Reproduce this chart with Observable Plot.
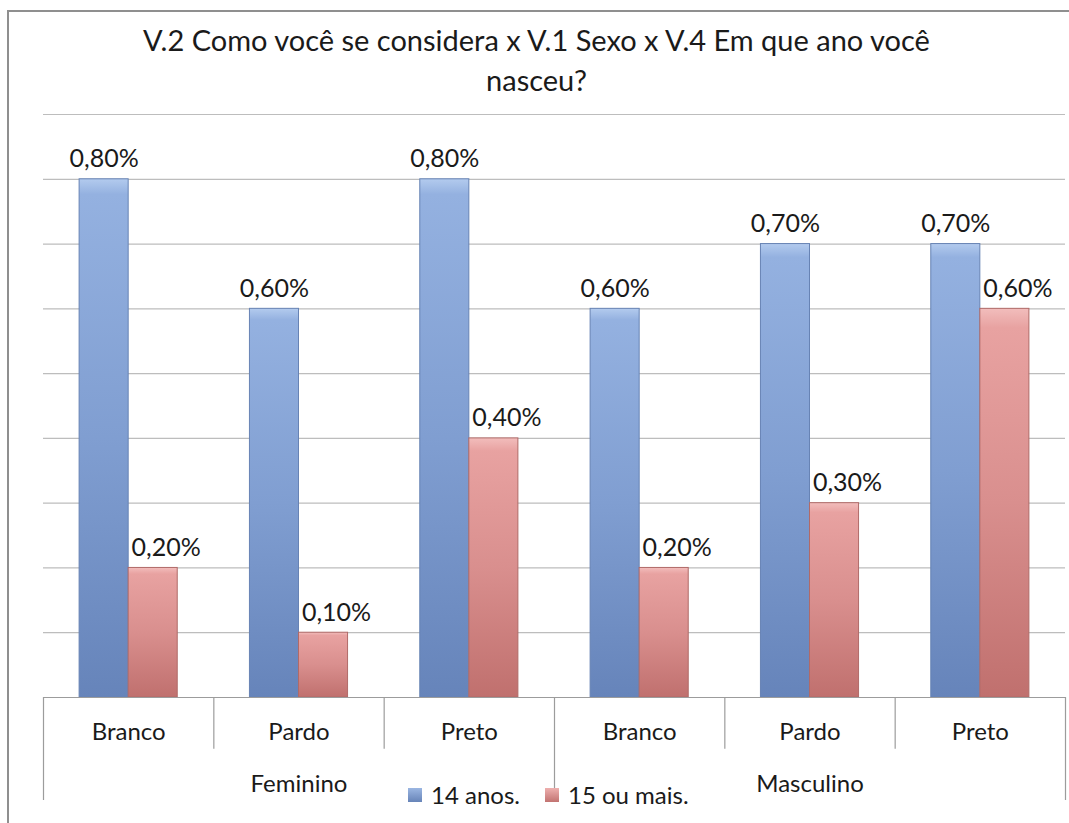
<!DOCTYPE html>
<html>
<head>
<meta charset="utf-8">
<script src="https://cdn.jsdelivr.net/npm/d3@7"></script>
<script src="https://cdn.jsdelivr.net/npm/@observablehq/plot@0.6"></script>
<style>
  html, body { margin: 0; padding: 0; background: #fff; }
  #wrap { position: relative; width: 1069px; height: 823px; overflow: hidden; font-family: Lato, "Open Sans", sans-serif; color: #1a1a1a; }
  #frame { position: absolute; left: 7px; top: 10px; width: 1100px; height: 900px; border-left: 2px solid #8f8f8f; border-top: 2px solid #8f8f8f; }
  #chart { position: absolute; left: 0; top: 0; }
  #title { position: absolute; left: 0; width: 1069px; top: 20px; text-align: center; font-size: 29px; line-height: 40px; padding-left: 2px; }
  #legend { position: absolute; top: 780px; left: 408px; font-size: 24px; display: flex; align-items: center; }
  #legend .sw { display: inline-block; width: 14px; height: 14px; margin-right: 9px; }
  #legend .item { display: flex; align-items: center; margin-right: 25px; }
</style>
</head>
<body>
<div id="wrap">
  <div id="frame"></div>
  <div id="chart"></div>
  <div id="title">V.2 Como você se considera x V.1 Sexo x V.4 Em que ano você<br>nasceu?</div>
  <div id="legend"></div>
</div>
<script>
// ---- data ----
const sexes = ["Feminino", "Feminino", "Feminino", "Masculino", "Masculino", "Masculino"];
const races = ["Branco", "Pardo", "Preto", "Branco", "Pardo", "Preto"];
const seriesNames = ["14 anos.", "15 ou mais."];
const anos14 = [0.8, 0.6, 0.8, 0.6, 0.7, 0.7];
const mais15 = [0.2, 0.1, 0.4, 0.2, 0.3, 0.6];
const yTicks = [0.1, 0.2, 0.3, 0.4, 0.5, 0.6, 0.7, 0.8, 0.9];
const sexGroups = ["Feminino", "Masculino"];

// ---- layout helpers (band offsets within each category slot) ----
const barOffsets = [[0.212, 0.5], [0.5, 0.788]];
const seriesFills = ["url(#gBlue)", "url(#gRed)"];
const seriesStrokes = ["#6783b4", "#b06a68"];

const rows = [];
races.forEach((r, i) => {
  [anos14[i], mais15[i]].forEach((v, s) => {
    rows.push({i, race: r, sex: sexes[i], series: seriesNames[s], s, value: v});
  });
});
const fmt = v => (v).toFixed(2).replace(".", ",") + "%";
const labelX = d => d.i + (barOffsets[d.s][0] + barOffsets[d.s][1]) / 2;

const chart = Plot.plot({
  width: 1069,
  height: 823,
  marginLeft: 43,
  marginRight: 4,
  marginTop: 114,
  marginBottom: 126,
  style: {background: "transparent", fontFamily: "Lato, 'Open Sans', sans-serif", overflow: "visible"},
  x: {type: "linear", domain: [0, races.length], axis: null},
  y: {domain: [0, 0.9], axis: null},
  marks: [
    Plot.ruleY(yTicks, {stroke: "#bdbdbd", strokeWidth: 1.2}),
    Plot.rectY(rows, {
      x1: d => d.i + barOffsets[d.s][0],
      x2: d => d.i + barOffsets[d.s][1],
      y1: 0,
      y2: "value",
      fill: d => seriesFills[d.s],
      stroke: d => seriesStrokes[d.s],
      strokeWidth: 1
    }),
    Plot.ruleY([0], {stroke: "#9c9c9c", strokeWidth: 1.2}),
    // category separators below the axis
    Plot.ruleX(d3.range(races.length + 1), {
      x: d => d,
      y1: 0,
      y2: d => (d % 3 === 0 ? -0.159 : -0.08),
      stroke: "#9c9c9c",
      strokeWidth: 1.2
    }),
    // value labels, series 1
    Plot.text(rows.filter(d => d.s === 0), {
      x: labelX,
      y: "value",
      text: d => fmt(d.value),
      dy: -12,
      lineAnchor: "bottom",
      fontSize: 25,
      fill: "#1a1a1a",
      textAnchor: "middle"
    }),
    // value labels, series 2 (shifted right like the original)
    Plot.text(rows.filter(d => d.s === 1), {
      x: labelX,
      y: "value",
      text: d => fmt(d.value),
      dx: 13,
      dy: -12,
      lineAnchor: "bottom",
      fontSize: 25,
      fill: "#1a1a1a",
      textAnchor: "middle"
    }),
    // category labels
    Plot.text(races, {
      x: (d, i) => i + 0.5,
      y: -0.054,
      text: d => d,
      fontSize: 24,
      fill: "#1a1a1a"
    }),
    // sex labels
    Plot.text(sexGroups, {
      x: (d, i) => i * 3 + 1.5,
      y: -0.134,
      text: d => d,
      fontSize: 24,
      fill: "#1a1a1a"
    })
  ]
});

// gradients for the bevelled bars
const ns = "http://www.w3.org/2000/svg";
const defs = document.createElementNS(ns, "defs");
function grad(id, stops) {
  const g = document.createElementNS(ns, "linearGradient");
  g.setAttribute("id", id);
  g.setAttribute("x1", "0"); g.setAttribute("y1", "0");
  g.setAttribute("x2", "0"); g.setAttribute("y2", "1");
  stops.forEach(([o, c]) => {
    const s = document.createElementNS(ns, "stop");
    s.setAttribute("offset", o);
    s.setAttribute("stop-color", c);
    g.appendChild(s);
  });
  defs.appendChild(g);
}
grad("gBlue", [["0", "#b3cbee"], ["0.03", "#94b1e0"], ["0.5", "#809ed1"], ["1", "#6684ba"]]);
grad("gRed", [["0", "#f2bdbc"], ["0.05", "#e8a2a1"], ["0.5", "#d98f8e"], ["1", "#c0706e"]]);
chart.insertBefore(defs, chart.firstChild);
document.getElementById("chart").appendChild(chart);

// legend
const legend = document.getElementById("legend");
const swatchBg = ["linear-gradient(#9bb6e2, #6784b8)", "linear-gradient(#eeb0af, #c27371)"];
seriesNames.forEach((name, s) => {
  const item = document.createElement("span");
  item.className = "item";
  const sw = document.createElement("span");
  sw.className = "sw";
  sw.style.background = swatchBg[s];
  item.appendChild(sw);
  item.appendChild(document.createTextNode(name));
  legend.appendChild(item);
});
</script>
</body>
</html>
